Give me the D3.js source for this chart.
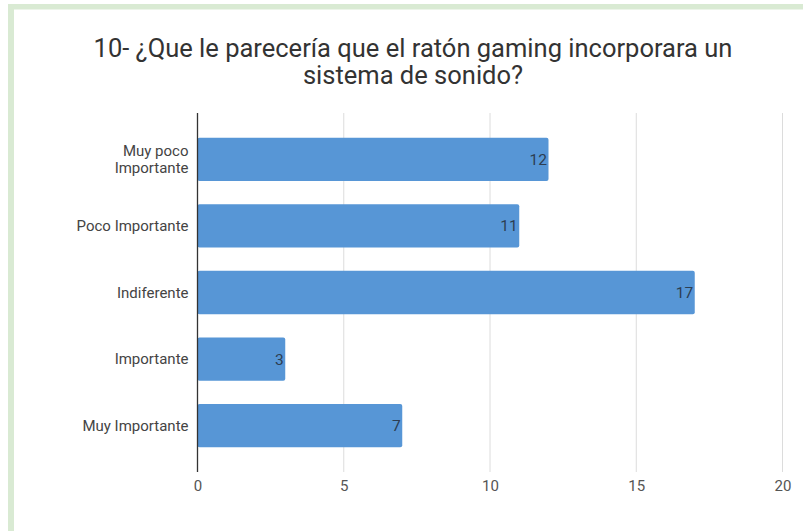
<!DOCTYPE html>
<html>
<head>
<meta charset="utf-8">
<script src="https://cdn.jsdelivr.net/npm/d3@7"></script>
<style>
  html, body { margin: 0; padding: 0; background: #fff; }
  svg { display: block; }
</style>
</head>
<body>
<script>
// Survey answers: how respondents rate a gaming mouse with a built-in sound system
const categories = ["Muy poco Importante", "Poco Importante", "Indiferente", "Importante", "Muy Importante"];
const categoryLines = [["Muy poco", "Importante"], ["Poco Importante"], ["Indiferente"], ["Importante"], ["Muy Importante"]];
const counts = [12, 11, 17, 3, 7];
const xTicks = [0, 5, 10, 15, 20];
const titleLines = ["10- ¿Que le parecería que el ratón gaming incorporara un", "sistema de sonido?"];

const W = 803, H = 531;
const svg = d3.select("body").append("svg").attr("width", W).attr("height", H);

svg.append("rect").attr("width", W).attr("height", H).attr("fill", "#fff");

// light green card frame (top and left edges)
svg.append("rect").attr("x", 8).attr("y", 4).attr("width", W - 8).attr("height", 5.5).attr("fill", "#d9ead3");
svg.append("rect").attr("x", 8).attr("y", 4).attr("width", 6).attr("height", H - 4).attr("fill", "#d9ead3");

const font = "Roboto, 'Noto Sans', sans-serif";

// title
svg.append("text")
  .attr("text-anchor", "middle")
  .attr("font-family", font)
  .attr("font-size", 25.5)
  .attr("fill", "#333")
  .selectAll("tspan")
  .data(titleLines)
  .join("tspan")
  .attr("x", 413)
  .attr("y", (d, i) => 57 + i * 27)
  .text(d => d);

const x = d3.scaleLinear().domain([0, 20]).range([197.5, 782.5]);
const y = d3.scaleBand().domain(categories).range([113, 472]).paddingInner(0.35).paddingOuter(0.37);

// vertical gridlines
svg.append("g")
  .selectAll("line")
  .data(xTicks.filter(t => t > 0))
  .join("line")
  .attr("x1", d => x(d)).attr("x2", d => x(d))
  .attr("y1", 113).attr("y2", 472)
  .attr("stroke", "#dcdcdc").attr("stroke-width", 1);

// bars
svg.append("g")
  .selectAll("rect")
  .data(counts)
  .join("rect")
  .attr("x", x(0))
  .attr("y", (d, i) => y(categories[i]))
  .attr("width", d => x(d) - x(0))
  .attr("height", y.bandwidth())
  .attr("rx", 2)
  .attr("fill", "#5796d6");

// value labels at bar ends
svg.append("g")
  .selectAll("text")
  .data(counts)
  .join("text")
  .attr("x", d => x(d) - 1.5)
  .attr("y", (d, i) => y(categories[i]) + y.bandwidth() / 2)
  .attr("dy", "0.35em")
  .attr("text-anchor", "end")
  .attr("font-family", font)
  .attr("font-size", 15.5)
  .attr("fill", "#2d3e52")
  .text(d => d);

// baseline axis line
svg.append("line")
  .attr("x1", x(0)).attr("x2", x(0))
  .attr("y1", 113).attr("y2", 472)
  .attr("stroke", "#333").attr("stroke-width", 1.3);

// x axis tick labels
const xAxis = d3.axisBottom(x).tickValues(xTicks).tickSize(0).tickPadding(0);
const gx = svg.append("g").attr("transform", "translate(0,480)").call(xAxis);
gx.select(".domain").remove();
gx.selectAll("text")
  .attr("font-family", font)
  .attr("font-size", 15)
  .attr("fill", "#555");

// category labels (one text per line, so wrapped labels stack cleanly)
const labelG = svg.append("g")
  .attr("text-anchor", "end")
  .attr("font-family", font)
  .attr("font-size", 15)
  .attr("fill", "#444");
categories.forEach((d, i) => {
  const lines = categoryLines[i];
  const cy = y(d) + y.bandwidth() / 2;
  const lh = 17.8;
  lines.forEach((t, k) => {
    labelG.append("text")
      .attr("x", 188.5)
      .attr("y", cy + (k - (lines.length - 1) / 2) * lh)
      .attr("dy", "0.35em")
      .text(t);
  });
});
</script>
</body>
</html>
